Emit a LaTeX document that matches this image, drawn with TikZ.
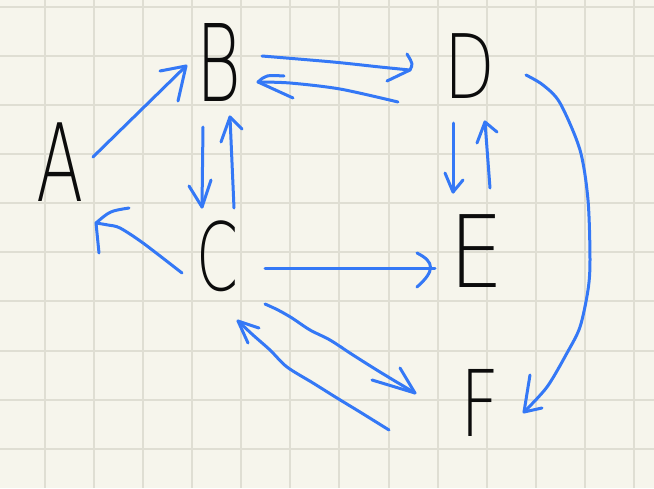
\documentclass[tikz,border=0pt]{standalone}
\usepackage{fontspec}
\usetikzlibrary{calc}
\newfontfamily\handN{DejaVuSans-ExtraLight.ttf}[FakeStretch=0.64]
\newfontfamily\handM{DejaVuSans-ExtraLight.ttf}[FakeStretch=0.74]
\newfontfamily\handW{DejaVuSans-ExtraLight.ttf}[FakeStretch=0.86]
\definecolor{paper}{RGB}{246,245,236}
\definecolor{gridc}{RGB}{223,222,211}
\definecolor{ink}{RGB}{52,120,246}
\definecolor{pen}{RGB}{12,12,12}
\begin{document}
\begin{tikzpicture}[x=1pt,y=-1pt,
  letter/.style n args={2}{font=#1\fontsize{#2}{#2}\selectfont, text=pen, inner sep=0pt},
  link/.style={draw=ink, line width=3pt, line cap=round, line join=round}]
\fill[paper] (0,0) rectangle (654,488);
\useasboundingbox (0,0) rectangle (654,488);
\foreach \k in {0,...,12} \draw[gridc, line width=2pt] ({45.3+49.03*\k},0) -- ({45.3+49.03*\k},488);
\foreach \k in {0,...,9} \draw[gridc, line width=2pt] (0,{7.3+49.03*\k}) -- (654,{7.3+49.03*\k});
% letters
\node[letter={\handN}{108}] (A) at (60,162) {A};
\node[letter={\handN}{107}] (B) at (219,62) {B};
\node[letter={\handN}{94}] (C) at (218,256) {C};
\node[letter={\handM}{89}] (D) at (470,66) {D};
\node[letter={\handW}{100}] (E) at (477,251) {E};
\node[letter={\handM}{92}] (F) at (480,403) {F};
% end points
\coordinate (ab0) at ($(A)+(33,-5)$);
\coordinate (ab1) at ($(B)+(-33,4)$);
\coordinate (bd0) at ($(B)+(43,-6)$);
\coordinate (bd1) at ($(D)+(-60,4)$);
\coordinate (db0) at ($(D)+(-72,36)$);
\coordinate (db1) at ($(B)+(39,20)$);
\coordinate (bc0) at ($(B)+(-16,65)$);
\coordinate (bc1) at ($(C)+(-16,-49)$);
\coordinate (cb0) at ($(C)+(16,-48)$);
\coordinate (cb1) at ($(B)+(11,55)$);
\coordinate (ca0) at ($(C)+(-36,17)$);
\coordinate (ca1) at ($(A)+(36,61)$);
\coordinate (ce0) at ($(C)+(47,12)$);
\coordinate (ce1) at ($(E)+(-42,17)$);
\coordinate (de0) at ($(D)+(-17,57)$);
\coordinate (de1) at ($(E)+(-24,-59)$);
\coordinate (ed0) at ($(E)+(13,-63)$);
\coordinate (ed1) at ($(D)+(15,56)$);
\coordinate (cf0) at ($(C)+(47,48)$);
\coordinate (cf1) at ($(F)+(-65,-10)$);
\coordinate (fc0) at ($(F)+(-91,27)$);
\coordinate (fc1) at ($(C)+(20,65)$);
\coordinate (df0) at ($(D)+(56,9)$);
\coordinate (df1) at ($(F)+(44,9)$);
% A -> B
\draw[link] (ab0) -- (ab1);
\draw[link] ($(ab1)+(-26,5)$) -- (ab1) -- ($(ab1)+(-8,35)$);
% B -> D
\draw[link] plot[smooth] coordinates {(bd0) (333,62) (380,67) (bd1)};
\draw[link] ($(bd1)+(-23,11)$) -- (bd1) .. controls ($(bd1)+(3,-6)$) .. ($(bd1)+(-3,-16)$);
% D -> B
\draw[link] plot[smooth] coordinates {(db0) (340,89) (290,83) (db1)};
\draw[link] ($(db1)+(26,-6)$) .. controls ($(db1)+(8,-7)$) .. (db1) -- ($(db1)+(35,16)$);
% B -> C
\draw[link] (bc0) -- (bc1);
\draw[link] ($(bc1)+(-13,-21)$) -- (bc1) -- ($(bc1)+(9,-27)$);
% C -> B
\draw[link] (cb0) -- (cb1);
\draw[link] ($(cb1)+(-9,25)$) -- (cb1) -- ($(cb1)+(12,12)$);
% C -> A
\draw[link] plot[smooth] coordinates {(ca0) (143,243) (120,228) (108,225) (ca1)};
\draw[link] ($(ca1)+(33,-15)$) .. controls ($(ca1)+(14,-12)$) .. (ca1) -- ($(ca1)+(3,30)$);
% C -> E
\draw[link] (ce0) -- (ce1);
\draw[link] ($(ce1)+(-18,-15)$) .. controls ($(ce1)+(0,-6)$) and ($(ce1)+(0,3)$) .. ($(ce1)+(-18,19)$);
% D -> E
\draw[link] (de0) -- (de1);
\draw[link] ($(de1)+(-8,-19)$) -- (de1) -- ($(de1)+(10,-12)$);
% E -> D
\draw[link] (ed0) -- (ed1);
\draw[link] ($(ed1)+(-8,21)$) -- (ed1) -- ($(ed1)+(12,10)$);
% C -> F
\draw[link] plot[smooth] coordinates {(cf0) (278,310) (292,318) (310,330) (330,340) (353,355) (380,372) (cf1)};
\draw[link] ($(cf1)+(-43,-13)$) -- (cf1) -- ($(cf1)+(-15,-25)$);
% F -> C
\draw[link] plot[smooth] coordinates {(fc0) (360,412) (337,398) (313,383) (287,367) (270,350) (253,335) (fc1)};
\draw[link] ($(fc1)+(21,7)$) -- (fc1) -- ($(fc1)+(10,22)$);
% D -> F
\draw[link] plot[smooth] coordinates {(df0) (543,85) (560,103) (580,150) (588,200) (590,260) (588,290) (580,327) (567,353) (547,387) (df1)};
\draw[link] ($(df1)+(6,-37)$) -- (df1) -- ($(df1)+(18,-4)$);
\end{tikzpicture}
\end{document}
